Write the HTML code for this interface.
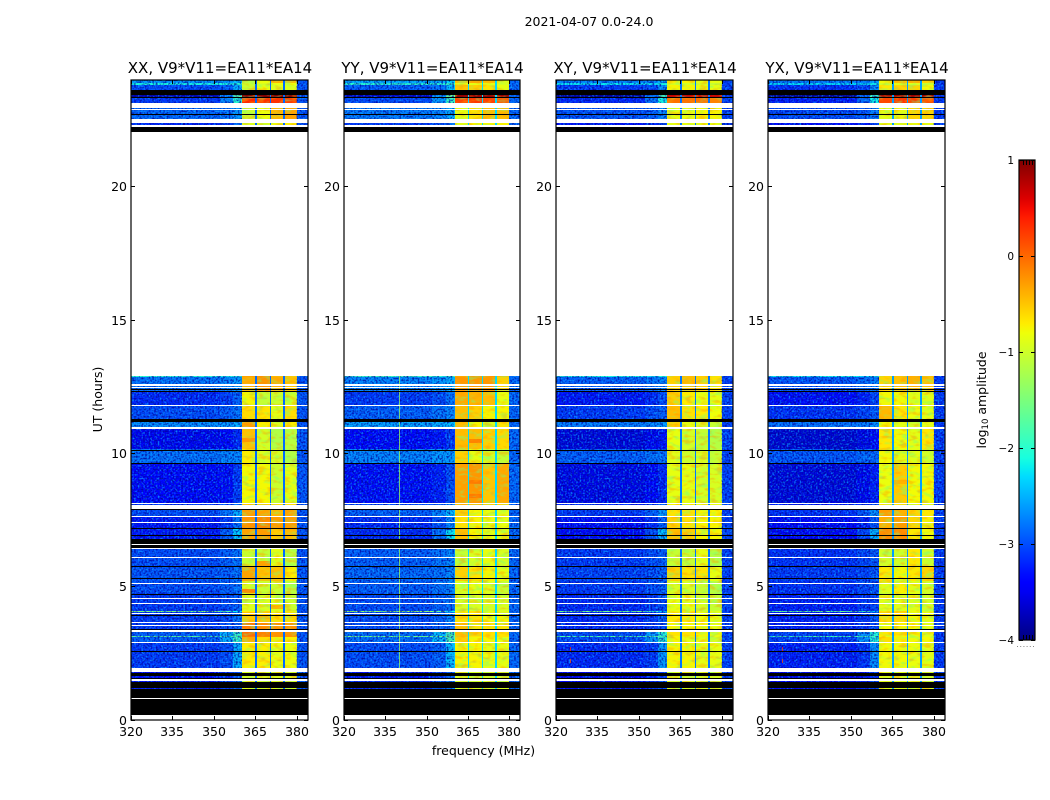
<!DOCTYPE html>
<html lang="en">
<head>
<meta charset="utf-8">
<title>2021-04-07 0.0-24.0 amplitude waterfall</title>
<style>
html,body{margin:0;padding:0;background:#fff;}
svg{display:block;}
text{font-family:"DejaVu Sans","Liberation Sans",sans-serif;fill:#000;}
</style>
</head>
<body>
<svg id="chart" xmlns="http://www.w3.org/2000/svg" width="1050" height="800" viewBox="0 0 1050 800">
<defs>
<filter id="grainLight" x="0" y="0" width="1" height="1" color-interpolation-filters="sRGB">
<feTurbulence type="fractalNoise" baseFrequency="0.55" numOctaves="1" seed="4"/>
<feColorMatrix type="matrix" values="0 0 0 0 0.05  0 0 0 0 0.65  0 0 0 0 1  3.4 0 0 0 -1.6"/>
</filter>
<filter id="grainDark" x="0" y="0" width="1" height="1" color-interpolation-filters="sRGB">
<feTurbulence type="fractalNoise" baseFrequency="0.55" numOctaves="1" seed="11"/>
<feColorMatrix type="matrix" values="0 0 0 0 0  0 0 0 0 0  0 0 0 0 0.6  0 3.4 0 0 -1.5"/>
</filter>
<filter id="mottleGreen" x="0" y="0" width="1" height="1" color-interpolation-filters="sRGB">
<feTurbulence type="fractalNoise" baseFrequency="0.12 0.25" numOctaves="2" seed="7"/>
<feColorMatrix type="matrix" values="0 0 0 0 0.45  0 0 0 0 1  0 0 0 0 0.5  4 0 0 0 -2"/>
</filter>
<filter id="mottleOrange" x="0" y="0" width="1" height="1" color-interpolation-filters="sRGB">
<feTurbulence type="fractalNoise" baseFrequency="0.12 0.25" numOctaves="2" seed="23"/>
<feColorMatrix type="matrix" values="0 0 0 0 1  0 0 0 0 0.62  0 0 0 0 0  0 4 0 0 -2"/>
</filter>
<linearGradient id="jetGradient" x1="0" y1="1" x2="0" y2="0"></linearGradient>
</defs>
<g id="heat"></g>
<g id="axes"></g>
<g id="colorbar"></g>
</svg>
<script>
// ---------- chart data (hours, MHz, log10 amplitude) ----------
const panelNames = ["XX, V9*V11=EA11*EA14", "YY, V9*V11=EA11*EA14", "XY, V9*V11=EA11*EA14", "YX, V9*V11=EA11*EA14"];
const polKeys = ["XX", "YY", "XY", "YX"];
const xTickLabels = [320, 335, 350, 365, 380];
const yTickLabels = [0, 5, 10, 15, 20];
const colorTickLabels = [1, 0, -1, -2, -3, -4];

// Frequency columns of the waterfall, MHz
const bgColumns = [[320, 352], [352, 357], [357, 360.3]];
const channelColumns = [[360.3, 365], [365.5, 370.2], [370.6, 375], [375.6, 380]];
const gapColumns = [[365, 365.5], [370.2, 370.6], [375, 375.6]];
const rightColumn = [380, 384];

// Time segments, hours
const segStart = [23.89, 23.81, 23.63, 23.36, 23.14, 22.5, 22.05, 12.86, 12.3, 11.81, 11.29, 10.91, 10.16, 9.64, 8.14, 7.88, 7.65, 7.2, 6.79, 6.41, 5.78, 5.21, 4.76, 4.09, 4.05, 3.64, 3.3, 3.15, 3.1, 2.93, 1.95, 1.5, 1.13];
const segEnd = [24.0, 23.89, 23.81, 23.44, 23.31, 23.14, 22.5, 12.9, 12.86, 12.3, 11.81, 11.29, 10.91, 10.16, 9.64, 8.14, 7.88, 7.65, 7.2, 6.79, 6.41, 5.78, 5.21, 4.76, 4.09, 4.05, 3.64, 3.3, 3.15, 3.1, 2.93, 1.95, 1.5];

// Background level per segment: low band, rising band, band edge
const bgLow = [-2.4, -1.9, -2.8, -3.6, -2.9, -2.65, -3.0, -1.8, -2.6, -3.0, -2.8, -2.45, -3.3, -2.6, -3.25, -2.9, -2.8, -3.1, -3.1, -2.9, -2.8, -2.75, -2.8, -2.9, -1.25, -2.9, -2.9, -2.7, -1.5, -2.7, -2.9, -3.2, -3.1];
const bgRise = [-2.4, -1.9, -2.7, -2.5, -2.5, -2.6, -2.9, -1.9, -2.5, -2.9, -2.7, -2.4, -3.2, -2.5, -3.15, -2.8, -2.6, -2.9, -2.7, -2.8, -2.7, -2.7, -2.7, -2.8, -1.5, -2.8, -2.8, -2.3, -1.5, -2.3, -2.8, -3.0, -2.9];
const bgEdge = [-2.2, -1.8, -2.3, -1.5, -1.8, -2.4, -2.7, -1.8, -2.4, -2.7, -2.6, -2.3, -3.0, -2.5, -2.9, -2.6, -2.3, -2.6, -2.1, -2.7, -2.6, -2.6, -2.6, -2.7, -2.0, -2.6, -2.7, -1.7, -1.5, -1.7, -2.3, -2.8, -2.7];
const polBgShift = [-0.2, -0.1, -0.3, -0.35];
const polChannelShift = [0.08, 0.05, 0.15, 0.12];
const gapLevel = [-2.85, -2.3, -2.8, -2.6];
const rightLevel = [-2.95, -2.85, -3.05, -3.1];

// Channel levels (four 5 MHz sub-bands) per polarisation, per segment
const channelsXX = [[-1.2,-.9,-.5,-.5],[-1.1,-1,-.9,-.9],[-1.1,-.9,-1,-1],[.9,.9,.9,.9],[.25,.2,.2,.15],[-1.1,-.9,-.5,-.4],[-1,-1,-.9,-.8],[-.4,-.3,-.5,-.6],[-.45,-.3,-.45,-.55],[-.85,-1.15,-1.1,-1.05],[-.7,-.75,-.95,-.7],[-.35,-.8,-1,-.8],[-.55,-1.05,-1.25,-1.2],[-.8,-1,-1.05,-1.25],[-.85,-.85,-1.1,-.95],[-.6,-.6,-.7,-.7],[-.35,-.4,-.5,-.4],[-.3,-.25,-.35,-.35],[-.4,-.35,-.6,-.5],[-.9,-.8,-1.1,-1.25],[-1.1,-1.15,-.95,-1.2],[-.4,-.55,-.55,-.8],[-1.05,-1.1,-1.1,-1.2],[-1,-1,-1,-1.1],[-.8,-.65,-.95,-.85],[-.6,-.6,-.75,-.7],[-.15,-.25,-.3,-.3],[-.1,-.2,-.3,-.3],[-.15,-.25,-.3,-.3],[-.45,-.7,-.8,-.8],[-.8,-.8,-.9,-.9],[-1,-1,-1,-1]];
const channelsYY = [[-.5,-.4,-.5,-.9],[-.9,-.9,-.9,-1],[-.55,-.6,-.7,-.9],[.85,.85,.85,.85],[.15,.2,.15,0],[-.9,-.7,-.5,-.5],[-.9,-.8,-.8,-.8],[-.4,-.3,-.3,-.5],[-.3,-.3,-.3,-.6],[-.4,-.45,-.5,-.9],[-.5,-.6,-.8,-.8],[-.5,-.8,-1,-.7],[-.5,-.5,-.6,-.65],[-.6,-.9,-1,-1.1],[-.35,-.3,-.55,-.4],[-.5,-.5,-.6,-.6],[-.6,-.8,-.9,-.9],[-.7,-.8,-.9,-.9],[-.5,-.8,-.9,-.9],[-.9,-.85,-1,-1],[-1.1,-1,-.9,-1],[-.6,-.7,-.8,-.9],[-1,-.9,-.95,-1.1],[-1,-1,-1,-1],[-.8,-.7,-.9,-.9],[-.7,-.7,-.85,-.8],[-.5,-.7,-.7,-.7],[-.5,-.6,-.7,-.7],[-.5,-.7,-.7,-.7],[-.6,-.8,-.8,-.9],[-.8,-.8,-.9,-.9],[-1,-1,-1,-1]];
const channelsXY = [[-.9,-.9,-1,-1],[-1.1,-1.1,-1.1,-1.2],[-.9,-.9,-1,-1],[.55,.55,.55,.55],[-.2,-.2,-.2,-.3],[-1,-1,-.9,-.9],[-1,-1,-1,-1],[-.7,-.6,-.7,-.8],[-.7,-.6,-.7,-.8],[-.7,-.85,-1,-1],[-.6,-.8,-.85,-.95],[-.7,-1,-1.1,-1.2],[-1,-1.1,-1.2,-1.3],[-1.05,-1.15,-1.1,-1.2],[-1,-1,-1.1,-1.1],[-.9,-.9,-1,-1],[-.8,-.8,-.9,-.9],[-.7,-.8,-.9,-.9],[-.6,-.7,-.9,-.9],[-1,-1,-1.1,-1.2],[-1.2,-1.2,-1,-1.3],[-.7,-.8,-.8,-1],[-1.1,-1.1,-1.2,-1.3],[-1,-1,-1.1,-1.2],[-.9,-.85,-1,-1],[-.85,-.85,-.95,-1],[-.9,-.9,-.9,-1],[-.8,-.8,-.9,-1],[-.9,-.9,-.9,-1],[-.9,-1,-1,-1.1],[-.9,-.9,-1,-1],[-1.1,-1.1,-1.1,-1.1]];
const channelsYX = [[-.9,-.6,-.5,-.7],[-1.1,-1,-1,-1.1],[-.8,-.7,-.7,-.9],[.75,.75,.75,.75],[.05,.15,.1,0],[-1,-.9,-.7,-.7],[-1,-1,-.9,-.9],[-.7,-.6,-.5,-.6],[-.7,-.6,-.5,-.6],[-.9,-.9,-1,-1],[-.55,-.8,-.95,-1],[-.9,-1,-1.1,-1],[-.8,-.9,-1,-.8],[-.9,-1,-1,-1.1],[-.95,-.65,-.9,-.9],[-.8,-.8,-.9,-.9],[-.4,-.5,-.7,-.8],[-.5,-.4,-.7,-.85],[-.3,-.3,-.8,-.9],[-.85,-.7,-.95,-1],[-1.1,-1.1,-.8,-1.1],[-.8,-.9,-.8,-.7],[-1,-.85,-1,-1.1],[-1,-1,-1,-1.1],[-.8,-.7,-.9,-1],[-.75,-.75,-.9,-.95],[-.9,-.85,-.9,-1],[-.8,-.8,-.9,-1],[-.9,-.85,-.9,-1],[-.75,-.85,-.9,-.9],[-.9,-.9,-.95,-1],[-1,-1,-1,-1.1]];
const channelSets = [channelsXX, channelsYY, channelsXY, channelsYX];

// Flagged time ranges: unobserved (white) and zero amplitude (black), hours
const whiteStart = [0, 0.79, 1.45, 1.79, 2.9, 3.31, 3.53, 3.63, 3.99, 4.35, 4.54, 5.11, 6.1, 6.41, 6.56, 7.4, 7.61, 7.89, 8.11, 10.11, 10.91, 11.78, 12.45, 12.54, 12.9, 22.24, 22.39, 22.86, 22.95];
const whiteEnd = [0.19, 0.81, 1.52, 1.95, 2.94, 3.38, 3.56, 3.66, 4.01, 4.38, 4.58, 5.14, 6.12, 6.44, 6.59, 7.42, 7.65, 8.05, 8.14, 10.14, 11.0, 11.81, 12.5, 12.6, 22.05, 22.3, 22.54, 22.91, 23.14];
const blackStart = [0.19, 0.81, 1.2, 1.52, 1.65, 2.56, 3.4, 3.91, 4.69, 5.28, 5.75, 6.45, 6.59, 6.91, 7.17, 7.88, 9.59, 10.09, 11.19, 12.3, 12.36, 22.05, 22.7, 23.31, 23.44];
const blackEnd = [0.79, 1.15, 1.44, 1.56, 1.75, 2.59, 3.43, 3.94, 4.71, 5.31, 5.78, 6.56, 6.79, 6.94, 7.2, 7.9, 9.63, 10.11, 11.28, 12.34, 12.4, 22.22, 22.73, 23.36, 23.63];

// Narrow interference features
const rfiPanel = [1, 2, 3, 2, 3];
const rfiFreq = [340, 325, 325, 325, 325];
const rfiFrom = [1.95, 2.15, 2.15, 2.55, 2.55];
const rfiTo = [12.9, 2.3, 2.3, 2.75, 2.75];
const rfiLevel = [-1.3, 0.1, 0.1, 0.3, 0.3];

// Short bright patches inside a sub-band
const hotPanel = [0, 0, 0, 0, 0, 0, 1, 1, 1, 3];
const hotChannel = [0, 1, 2, 0, 2, 1, 1, 1, 1, 1];
const hotHour = [10.5, 5.87, 5.6, 4.85, 4.25, 3.85, 10.45, 8.93, 8.4, 8.93];
const hotLevel = [-0.25, -0.3, -0.45, -0.15, -0.4, -0.4, -0.15, -0.1, -0.1, -0.4];

// ---------- layout and axis functions ----------
const NS = "http://www.w3.org/2000/svg";
const PANEL_LEFT = [131, 344, 556, 768];
const PANEL_W = [177, 176, 177, 177];
const TOP = 80, BOTTOM = 720, FREQ_MIN = 320, FREQ_MAX = 384, HOUR_MAX = 24;
const CB_X = 1019, CB_W = 16, CB_TOP = 160, CB_BOTTOM = 640;
const FONT_SIZE = 12.5;

function xScale(panel, mhz) { return PANEL_LEFT[panel] + (mhz - FREQ_MIN) / (FREQ_MAX - FREQ_MIN) * PANEL_W[panel]; }
function yScale(hour) { return BOTTOM - hour / HOUR_MAX * (BOTTOM - TOP); }
function cbScale(level) { return CB_BOTTOM - (level + 4) / 5 * (CB_BOTTOM - CB_TOP); }

function jetChannel(t, pts) {
  for (let i = 1; i < pts.length; i++) {
    if (t <= pts[i][0]) {
      const a = pts[i - 1], b = pts[i];
      return a[1] + (b[1] - a[1]) * (t - a[0]) / (b[0] - a[0]);
    }
  }
  return pts[pts.length - 1][1];
}
const JET_R = [[0,0],[.35,0],[.66,1],[.89,1],[1,.5]];
const JET_G = [[0,0],[.125,0],[.375,1],[.64,1],[.91,0],[1,0]];
const JET_B = [[0,.5],[.11,1],[.34,1],[.65,0],[1,0]];
function jet(level) {
  const t = Math.max(0, Math.min(1, (level + 4) / 5));
  const c = [JET_R, JET_G, JET_B].map(p => Math.round(255 * jetChannel(t, p)));
  return "rgb(" + c.join(",") + ")";
}

function rect(parent, x, y, w, h, fill) {
  const r = document.createElementNS(NS, "rect");
  r.setAttribute("x", x);
  r.setAttribute("y", y);
  r.setAttribute("width", w);
  r.setAttribute("height", h);
  r.setAttribute("fill", fill);
  r.setAttribute("shape-rendering", "crispEdges");
  parent.appendChild(r);
  return r;
}
function line(parent, x1, y1, x2, y2, stroke) {
  const l = document.createElementNS(NS, "line");
  l.setAttribute("x1", x1);
  l.setAttribute("y1", y1);
  l.setAttribute("x2", x2);
  l.setAttribute("y2", y2);
  l.setAttribute("stroke", stroke);
  l.setAttribute("stroke-width", "1");
  parent.appendChild(l);
  return l;
}
function label(parent, x, y, str, size, anchor) {
  const t = document.createElementNS(NS, "text");
  t.setAttribute("x", x);
  t.setAttribute("y", y);
  t.setAttribute("font-size", size);
  t.setAttribute("text-anchor", anchor);
  t.textContent = str;
  parent.appendChild(t);
  return t;
}
function minusText(v) { return v < 0 ? "\u2212" + Math.abs(v) : String(v); }

// ---------- heatmap ----------
const heat = document.getElementById("heat");
function cell(g, panel, f0, f1, h0, h1, level) {
  const x0 = Math.round(xScale(panel, f0)), x1 = Math.round(xScale(panel, f1));
  const y0 = Math.round(yScale(h1)), y1 = Math.round(yScale(h0));
  const r = rect(g, x0, y0, Math.max(1, x1 - x0), Math.max(1, y1 - y0), jet(level));
  
  
  return r;
}
polKeys.forEach((pol, p) => {
  const g = document.createElementNS(NS, "g");
  
  
  heat.appendChild(g);
  // white axes background
  rect(g, PANEL_LEFT[p], TOP, PANEL_W[p], BOTTOM - TOP, "#fff");
  const chans = channelSets[p];
  segStart.forEach((s, i) => {
    const e = segEnd[i];
    const lows = [bgLow[i], bgRise[i], bgEdge[i]];
    bgColumns.forEach((col, c) => cell(g, p, col[0], col[1], s, e, lows[c] + polBgShift[p]));
    cell(g, p, rightColumn[0], rightColumn[1], s, e, rightLevel[p]);
    const row = chans[Math.min(i, chans.length - 1)];
    channelColumns.forEach((col, c) => cell(g, p, col[0], col[1], s, e, row[c] + polChannelShift[p]));
    gapColumns.forEach(col => cell(g, p, col[0], col[1], s, e, gapLevel[p]));
  });
  // bright patches
  hotPanel.forEach((pn, i) => {
    if (pn !== p) return;
    const col = channelColumns[hotChannel[i]];
    const r = cell(g, p, col[0], col[1], hotHour[i] - 0.08, hotHour[i] + 0.08, hotLevel[i]);
    
  });
  // speckle on the receiver-noise background
  [["grainLight", 0.8], ["grainDark", 0.8]].forEach(spec => {
    [[FREQ_MIN, 360], [380, FREQ_MAX]].forEach(range => {
      const gx = xScale(p, range[0]), gw = xScale(p, range[1]) - gx;
      const r = rect(g, gx, TOP, gw, BOTTOM - TOP, "#000");
      r.setAttribute("filter", "url(#" + spec[0] + ")");
      r.setAttribute("opacity", spec[1]);
      
      
    });
  });
  // mottling over the occupied sub-bands
  ["mottleGreen", "mottleOrange"].forEach(fid => {
    channelColumns.forEach(col => {
      const gx = Math.round(xScale(p, col[0])), gw = Math.round(xScale(p, col[1])) - gx;
      const r = rect(g, gx, TOP, gw, BOTTOM - TOP, "#000");
      r.setAttribute("filter", "url(#" + fid + ")");
      r.setAttribute("opacity", "0.45");
      
      
    });
  });
  // interference
  rfiPanel.forEach((pn, i) => {
    if (pn !== p) return;
    const r = rect(g, Math.round(xScale(p, rfiFreq[i])), Math.round(yScale(rfiTo[i])), 1, Math.max(1, Math.round(yScale(rfiFrom[i]) - yScale(rfiTo[i]))), jet(rfiLevel[i]));
    r.setAttribute("opacity", "0.75");
    
    
  });
  // flagged rows
  whiteStart.forEach((s, i) => {
    const y0 = Math.round(yScale(whiteEnd[i])), y1 = Math.round(yScale(s));
    const r = rect(g, PANEL_LEFT[p], y0, PANEL_W[p], Math.max(1, y1 - y0), "#fff");
    
    
  });
  blackStart.forEach((s, i) => {
    const y0 = Math.round(yScale(blackEnd[i])), y1 = Math.round(yScale(s));
    const r = rect(g, PANEL_LEFT[p], y0, PANEL_W[p], Math.max(1, y1 - y0), "#000");
    
    
  });
});

// ---------- axes ----------
const axes = document.getElementById("axes");
polKeys.forEach((pol, p) => {
  const g = document.createElementNS(NS, "g");
  
  
  axes.appendChild(g);
  const L = PANEL_LEFT[p], R = L + PANEL_W[p];
  xTickLabels.forEach(v => {
    const x = Math.round(xScale(p, v)) + 0.5;
    const t1 = line(g, x, BOTTOM, x, BOTTOM - 4, "#000");
    
    
    const t2 = line(g, x, TOP, x, TOP + 4, "#000");
    
    
    const t = label(g, x - 0.5, 736, String(v), FONT_SIZE, "middle");
    
    
  });
  yTickLabels.forEach(v => {
    const y = Math.floor(yScale(v)) + 0.5;
    const t1 = line(g, L, y, L + 4, y, "#000");
    
    
    const t2 = line(g, R, y, R - 4, y, "#000");
    
    
    const t = label(g, L - 4, y + 4.5, String(v), FONT_SIZE, "end");
    
    
  });
  const frame = document.createElementNS(NS, "rect");
  frame.setAttribute("x", L);
  frame.setAttribute("y", TOP);
  frame.setAttribute("width", PANEL_W[p]);
  frame.setAttribute("height", BOTTOM - TOP);
  frame.setAttribute("fill", "none");
  frame.setAttribute("stroke", "#000");
  frame.setAttribute("stroke-width", "1.2");
  
  
  g.appendChild(frame);
  const title = label(g, L + PANEL_W[p] / 2 + 0.5, 73, panelNames[p], 15, "middle");
  
  
});

const sup = label(axes, 589, 26, "2021-04-07 0.0-24.0", FONT_SIZE, "middle");


const xt = label(axes, 483.5, 755, "frequency (MHz)", FONT_SIZE, "middle");


const yt = label(axes, 0, 0, "UT (hours)", FONT_SIZE, "middle");
yt.setAttribute("transform", "translate(102 399.5) rotate(-90)");



// ---------- colorbar ----------
const cb = document.getElementById("colorbar");


const grad = document.getElementById("jetGradient");
for (let i = 0; i <= 50; i++) {
  const stop = document.createElementNS(NS, "stop");
  stop.setAttribute("offset", (i * 2) + "%");
  stop.setAttribute("stop-color", jet(-4 + i / 10));
  grad.appendChild(stop);
}
const cbRect = rect(cb, CB_X, CB_TOP, CB_W, CB_BOTTOM - CB_TOP, "url(#jetGradient)");


colorTickLabels.forEach(v => {
  const y = Math.round(cbScale(v)) + 0.5;
  const a = line(cb, CB_X, y, CB_X + 4, y, "#000");
  
  
  const b = line(cb, CB_X + CB_W, y, CB_X + CB_W - 4, y, "#000");
  
  
  const t = label(cb, CB_X - 5, y + 3.5, minusText(v), 10.5, "end");
  
  
});
[4, 7, 10, 13].forEach(off => {
  const a = line(cb, CB_X + off + 0.5, CB_TOP, CB_X + off + 0.5, CB_TOP + 5, "#000");
  
  
  const b = line(cb, CB_X + off + 0.5, CB_BOTTOM, CB_X + off + 0.5, CB_BOTTOM - 5, "#000");
  
  
});
const cbFrame = document.createElementNS(NS, "rect");
cbFrame.setAttribute("x", CB_X);
cbFrame.setAttribute("y", CB_TOP);
cbFrame.setAttribute("width", CB_W);
cbFrame.setAttribute("height", CB_BOTTOM - CB_TOP);
cbFrame.setAttribute("fill", "none");
cbFrame.setAttribute("stroke", "#000");
cbFrame.setAttribute("stroke-width", "1.2");


cb.appendChild(cbFrame);
const dots = line(cb, 1017, 646.5, 1035, 646.5, "#888");
dots.setAttribute("stroke-dasharray", "1 2.2");



const cbt = document.createElementNS(NS, "text");
cbt.setAttribute("transform", "translate(986 400) rotate(-90)");
cbt.setAttribute("text-anchor", "middle");
cbt.setAttribute("font-size", "12.5");


const t1 = document.createElementNS(NS, "tspan");
t1.textContent = "log";
const t2 = document.createElementNS(NS, "tspan");
t2.setAttribute("font-size", "8.5");
t2.setAttribute("dy", "2");
t2.textContent = "10";
const t3 = document.createElementNS(NS, "tspan");
t3.setAttribute("dy", "-2");
t3.textContent = " amplitude";
cbt.appendChild(t1);
cbt.appendChild(t2);
cbt.appendChild(t3);
cb.appendChild(cbt);
</script>
</body>
</html>
